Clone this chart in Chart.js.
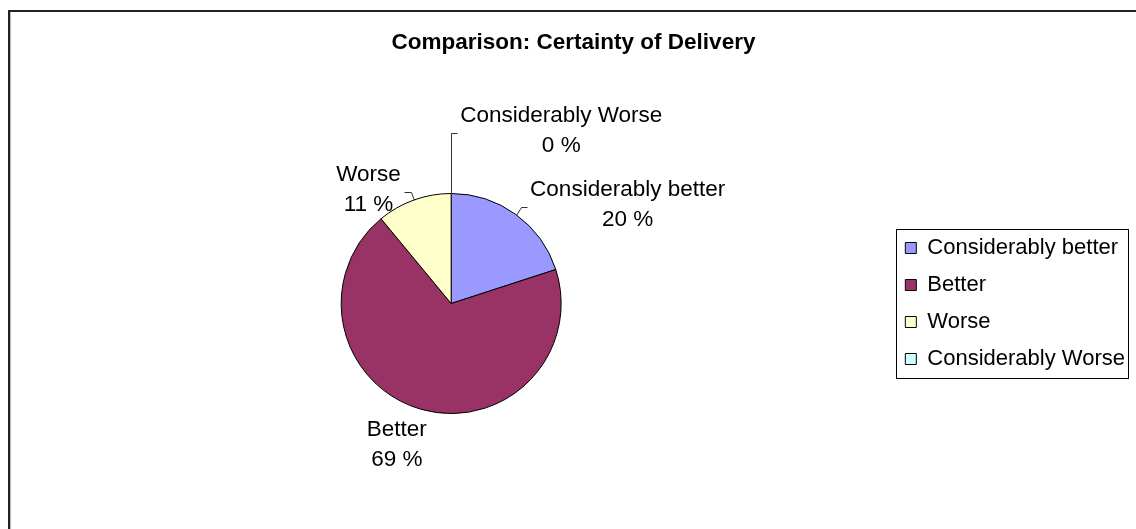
<!DOCTYPE html>
<html>
<head>
<meta charset="utf-8">
<script src="https://cdn.jsdelivr.net/npm/chart.js@4"></script>
<style>
  html, body { margin: 0; padding: 0; background: #fff; }
  #wrap { width: 1136px; height: 529px; }
</style>
</head>
<body>
<div id="wrap"><canvas id="pie"></canvas></div>
<script>
// Data
const categories = ["Considerably better", "Better", "Worse", "Considerably Worse"];
const shares = [20, 69, 11, 0];
const sliceColors = ["#9999ff", "#993366", "#ffffcc", "#ccffff"];
const chartTitle = "Comparison: Certainty of Delivery";

const FONT = "'Liberation Sans', Arial, sans-serif";

// how each data label hangs off its slice (leader length, arm, side)
const labelStyle = [
  { ext: 9, arm: 6, side: "right" },
  { ext: 6, arm: 0, side: "below", shiftX: -22 },
  { ext: 9, arm: -7, side: "left" },
  { ext: 61, arm: 6, side: "right" }
];

// frame like the old spreadsheet chart area
const framePlugin = {
  id: "frame",
  beforeDraw(chart) {
    const ctx = chart.ctx;
    ctx.save();
    ctx.fillStyle = "#fff";
    ctx.fillRect(0, 0, chart.width, chart.height);
    ctx.fillStyle = "#bbb";
    ctx.fillRect(10, 12, 1, chart.height);
    ctx.fillStyle = "#222";
    ctx.fillRect(8, 10, 2, chart.height);
    ctx.fillRect(8, 10, chart.width, 2);
    ctx.restore();
  }
};

// outside labels with leader lines
const sliceLabels = {
  id: "sliceLabels",
  afterDatasetsDraw(chart) {
    const ctx = chart.ctx;
    const meta = chart.getDatasetMeta(0);
    ctx.save();
    ctx.font = "22.5px " + FONT;
    ctx.fillStyle = "#000";
    ctx.strokeStyle = "#333";
    ctx.lineWidth = 1;
    ctx.textAlign = "center";
    ctx.textBaseline = "middle";
    meta.data.forEach((arc, i) => {
      const p = arc.getProps(["x", "y", "startAngle", "endAngle", "outerRadius"], true);
      const mid = (p.startAngle + p.endAngle) / 2;
      const s = labelStyle[i];
      const rim = { x: p.x + Math.cos(mid) * p.outerRadius, y: p.y + Math.sin(mid) * p.outerRadius };
      const elbow = { x: p.x + Math.cos(mid) * (p.outerRadius + s.ext), y: p.y + Math.sin(mid) * (p.outerRadius + s.ext) };
      const lines = [categories[i], shares[i] + " %"];
      const w = Math.max(...lines.map(t => ctx.measureText(t).width));
      let cx, cy;
      if (s.side === "below") {
        cx = elbow.x + s.shiftX;
        cy = elbow.y + 30;
      } else {
        const endX = elbow.x + s.arm;
        ctx.beginPath();
        ctx.moveTo(Math.round(rim.x) + 0.5, Math.round(rim.y) + 0.5);
        ctx.lineTo(Math.round(elbow.x) + 0.5, Math.round(elbow.y) + 0.5);
        ctx.lineTo(Math.round(endX) + 0.5, Math.round(elbow.y) + 0.5);
        ctx.stroke();
        cx = s.side === "right" ? endX + 3 + w / 2 : endX - 3 - w / 2;
        cy = elbow.y - 2;
      }
      ctx.fillText(lines[0], cx, cy - 15);
      ctx.fillText(lines[1], cx, cy + 15);
    });
    ctx.restore();
  }
};

// box round the legend
const legendBox = {
  id: "legendBox",
  afterDraw(chart) {
    const boxes = chart.legend.legendHitBoxes;
    if (!boxes || !boxes.length) return;
    const l = Math.min(...boxes.map(b => b.left));
    const t = Math.min(...boxes.map(b => b.top));
    const r = Math.max(...boxes.map(b => b.left + b.width));
    const b = Math.max(...boxes.map(b => b.top + b.height));
    const ctx = chart.ctx;
    ctx.save();
    ctx.strokeStyle = "#000";
    ctx.lineWidth = 1;
    ctx.strokeRect(Math.round(l - 9) + 0.5, Math.round(t - 8) + 0.5, Math.round(r - l + 12), Math.round(b - t + 16));
    ctx.restore();
  }
};

Chart.defaults.color = "#000";
Chart.defaults.font.family = FONT;

new Chart(document.getElementById("pie"), {
  type: "pie",
  data: {
    labels: categories,
    datasets: [{
      data: shares,
      backgroundColor: sliceColors,
      borderColor: "#000",
      borderWidth: 1
    }]
  },
  options: {
    responsive: true,
    maintainAspectRatio: false,
    animation: false,
    events: [],
    radius: 110,
    layout: { padding: { left: 12, right: 1, top: 0, bottom: 16 } },
    plugins: {
      title: {
        display: true,
        text: chartTitle,
        font: { size: 22.5, weight: "bold" },
        padding: { top: 29, bottom: 38 }
      },
      legend: {
        position: "right",
        fullSize: false,
        labels: {
          boxWidth: 11,
          boxHeight: 11,
          padding: 15,
          font: { size: 22 }
        }
      },
      tooltip: { enabled: false }
    }
  },
  plugins: [framePlugin, sliceLabels, legendBox]
});
</script>
</body>
</html>
